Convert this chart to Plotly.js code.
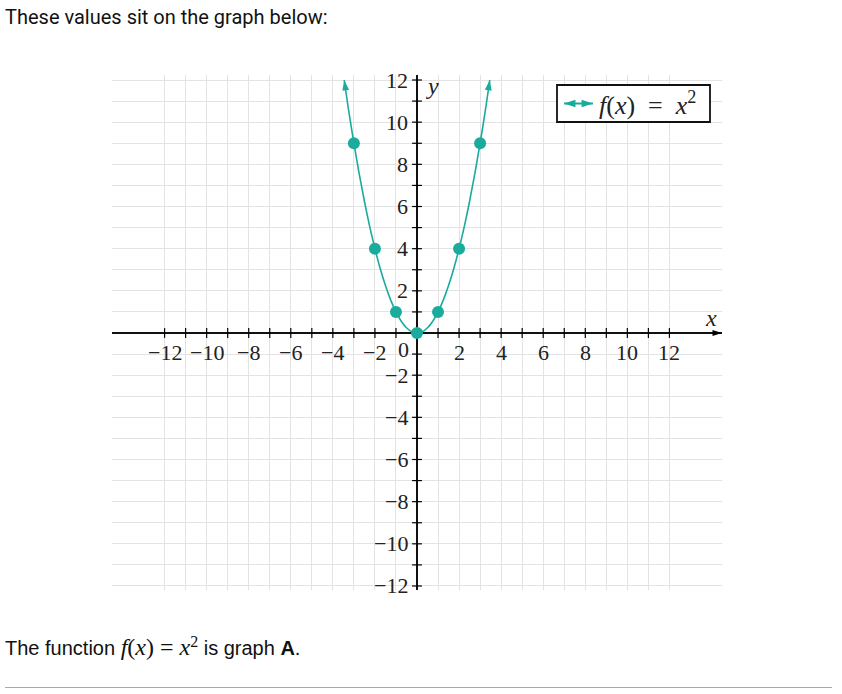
<!DOCTYPE html>
<html>
<head>
<meta charset="utf-8">
<script src="https://cdn.plot.ly/plotly-3.0.1.min.js"></script>
<style>
  html, body { margin: 0; padding: 0; background: #fff; }
  body { width: 842px; height: 694px; position: relative; overflow: hidden; }
  #chart { position: absolute; left: 0; top: 0; width: 842px; height: 694px; }
  .txt { position: absolute; font-family: Roboto, "Liberation Sans", sans-serif; font-size: 20px; color: #111; white-space: nowrap; }
  .bot { font-family: "Liberation Sans", Arial, sans-serif; font-size: 20px; }
  .m { font-family: "Liberation Serif", serif; font-style: italic; font-size: 24px; }
  .mr { font-family: "Liberation Serif", serif; font-size: 24px; }
  #rule { position: absolute; left: 5px; top: 687px; width: 827px; height: 0; border-top: 1.5px solid #aaa; }
</style>
</head>
<body>
<div class="txt" style="left:5px; top:5px;">These values sit on the graph below:</div>
<div id="chart"></div>
<div class="txt bot" style="left:5px; top:633px;">The function <span class="m">f</span><span class="mr">(</span><span class="m">x</span><span class="mr">)&nbsp;=&nbsp;</span><span class="m">x</span><sup class="mr" style="font-size:16px;">2</sup> is graph&nbsp;<b>A</b>.</div>
<div id="rule"></div>
<script>
// ---- data ----
const pointX = [-3, -2, -1, 0, 1, 2, 3];
const pointY = [9, 4, 1, 0, 1, 4, 9];
const curveX = [-3.46, -3.25, -3, -2.75, -2.5, -2.25, -2, -1.75, -1.5, -1.25, -1, -0.75, -0.5, -0.25, 0, 0.25, 0.5, 0.75, 1, 1.25, 1.5, 1.75, 2, 2.25, 2.5, 2.75, 3, 3.25, 3.46];
const curveY = [12, 10.56, 9, 7.56, 6.25, 5.06, 4, 3.06, 2.25, 1.56, 1, 0.56, 0.25, 0.06, 0, 0.06, 0.25, 0.56, 1, 1.56, 2.25, 3.06, 4, 5.06, 6.25, 7.56, 9, 10.56, 12];
const gridX = [-12,-11,-10,-9,-8,-7,-6,-5,-4,-3,-2,-1,0,1,2,3,4,5,6,7,8,9,10,11,12];
const gridY = [-12,-11,-10,-9,-8,-7,-6,-5,-4,-3,-2,-1,0,1,2,3,4,5,6,7,8,9,10,11,12];
const labelX = [-12, -10, -8, -6, -4, -2, 2, 4, 6, 8, 10, 12];
const labelY = [-12, -10, -8, -6, -4, -2, 2, 4, 6, 8, 10, 12];
const seriesName = '<i>f</i>(<i>x</i>)\u2002=\u2002<i>x</i><sup>2</sup>';

const teal = '#1aab9d';
const serif = '"Liberation Serif", "Times New Roman", serif';
const fmt = v => (v < 0 ? '\u2212' + Math.abs(v) : String(v));

// ---- layout geometry (pixels of the page) ----
const L = 112, R = 722, T = 75, B = 590;
const xRange = [-14.5, 14.5];
const yRange = [-12.19, 12.2375];
const pxX = (R - L) / (xRange[1] - xRange[0]);
const pxY = (B - T) / (yRange[1] - yRange[0]);
const toX = px => xRange[0] + (px - L) / pxX;
const toY = py => yRange[1] - (py - T) / pxY;
const yArrowTip = toY(73);
const legBox = { x0: 557, x1: 710, y0: 85, y1: 122 };
const legMid = (legBox.y0 + legBox.y1) / 2;

function endAngle(i0, i1) {
  const dx = (curveX[i0] - curveX[i1]) * pxX;
  const dyUp = (curveY[i0] - curveY[i1]) * pxY;
  return Math.atan2(dx, dyUp) * 180 / Math.PI;
}
const last = curveX.length - 1;
const nz = a => a.filter(v => v !== 0);

const traces = [
  { x: curveX, y: curveY, mode: 'lines', line: { color: teal, width: 1.6, shape: 'spline' },
    name: 'f(x) = x²', showlegend: false, hoverinfo: 'skip' },
  { x: pointX, y: pointY, mode: 'markers', marker: { color: teal, size: 12 },
    showlegend: false, hoverinfo: 'skip' },
  { x: nz(gridX), y: nz(gridX).map(() => 0), mode: 'markers',
    marker: { symbol: 'line-ns-open', size: 7, color: '#000', line: { color: '#000', width: 1.2 } },
    showlegend: false, hoverinfo: 'skip' },
  { x: nz(gridY).map(() => 0), y: nz(gridY), mode: 'markers',
    marker: { symbol: 'line-ew-open', size: 7, color: '#000', line: { color: '#000', width: 1.2 } },
    showlegend: false, hoverinfo: 'skip' },
  // axis arrowheads
  { x: [xRange[1], 0], y: [0, yArrowTip], mode: 'markers', cliponaxis: false,
    marker: { symbol: 'arrow', size: 10, angle: [90, 0], color: '#000', line: { width: 0 } },
    showlegend: false, hoverinfo: 'skip' },
  // curve end arrowheads
  { x: [curveX[0], curveX[last]], y: [curveY[0], curveY[last]], mode: 'markers', cliponaxis: false,
    marker: { symbol: 'arrow', size: 11, angle: [endAngle(0, 1), endAngle(last, last - 1)], color: teal, line: { width: 0 } },
    showlegend: false, hoverinfo: 'skip' },
  // legend key: double-headed arrow
  { x: [toX(564), toX(593)], y: [toY(legMid), toY(legMid)], mode: 'lines+markers', cliponaxis: false,
    line: { color: teal, width: 2 },
    marker: { symbol: 'arrow', size: 12, angle: [-90, 90], color: teal, line: { width: 0 } },
    showlegend: false, hoverinfo: 'skip' }
];

const ann = [];
const tickFont = { family: serif, size: 22, color: '#222' };
labelX.forEach(v => ann.push({ x: v, y: 0, text: fmt(v), showarrow: false, xanchor: 'center', yanchor: 'middle',
  yshift: -19, font: tickFont }));
labelY.forEach(v => ann.push({ x: 0, y: v, text: fmt(v), showarrow: false, xanchor: 'right', yanchor: 'middle',
  xshift: -7, font: tickFont }));
ann.push({ x: 0, y: 0, text: '0', showarrow: false, xanchor: 'right', yanchor: 'middle', xshift: -6, yshift: -16,
  font: tickFont });
// axis names
ann.push({ x: 14, y: 0.7, text: '<i>x</i>', showarrow: false, xanchor: 'center', yanchor: 'middle',
  font: { family: serif, size: 24, color: '#222' } });
ann.push({ x: 0.72, y: 11.7, text: '<i>y</i>', showarrow: false, xanchor: 'center', yanchor: 'middle',
  font: { family: serif, size: 24, color: '#222' } });
// legend text
ann.push({ x: toX(597), y: toY(legMid), xanchor: 'left', yanchor: 'middle', text: seriesName, showarrow: false,
  font: { family: serif, size: 26, color: '#222' } });

const layout = {
  width: 842, height: 694,
  margin: { l: L, r: 842 - R, t: T, b: 694 - B },
  paper_bgcolor: 'rgba(0,0,0,0)', plot_bgcolor: '#fff',
  xaxis: { range: xRange, tickvals: gridX, showticklabels: false, ticks: '', showgrid: true,
    gridcolor: '#e3e3e3', gridwidth: 1, zeroline: true, zerolinecolor: '#111', zerolinewidth: 2,
    showline: false, fixedrange: true },
  yaxis: { range: yRange, tickvals: gridY, showticklabels: false, ticks: '', showgrid: true,
    gridcolor: '#e3e3e3', gridwidth: 1, zeroline: true, zerolinecolor: '#111', zerolinewidth: 2,
    showline: false, fixedrange: true },
  showlegend: false,
  shapes: [
    { type: 'rect', layer: 'between', xref: 'x', yref: 'y',
      x0: toX(legBox.x0), x1: toX(legBox.x1), y0: toY(legBox.y1), y1: toY(legBox.y0),
      fillcolor: '#fff', line: { color: '#111', width: 1.8 } }
  ],
  annotations: ann
};

Plotly.newPlot('chart', traces, layout, { staticPlot: true, displayModeBar: false });
</script>
</body>
</html>
